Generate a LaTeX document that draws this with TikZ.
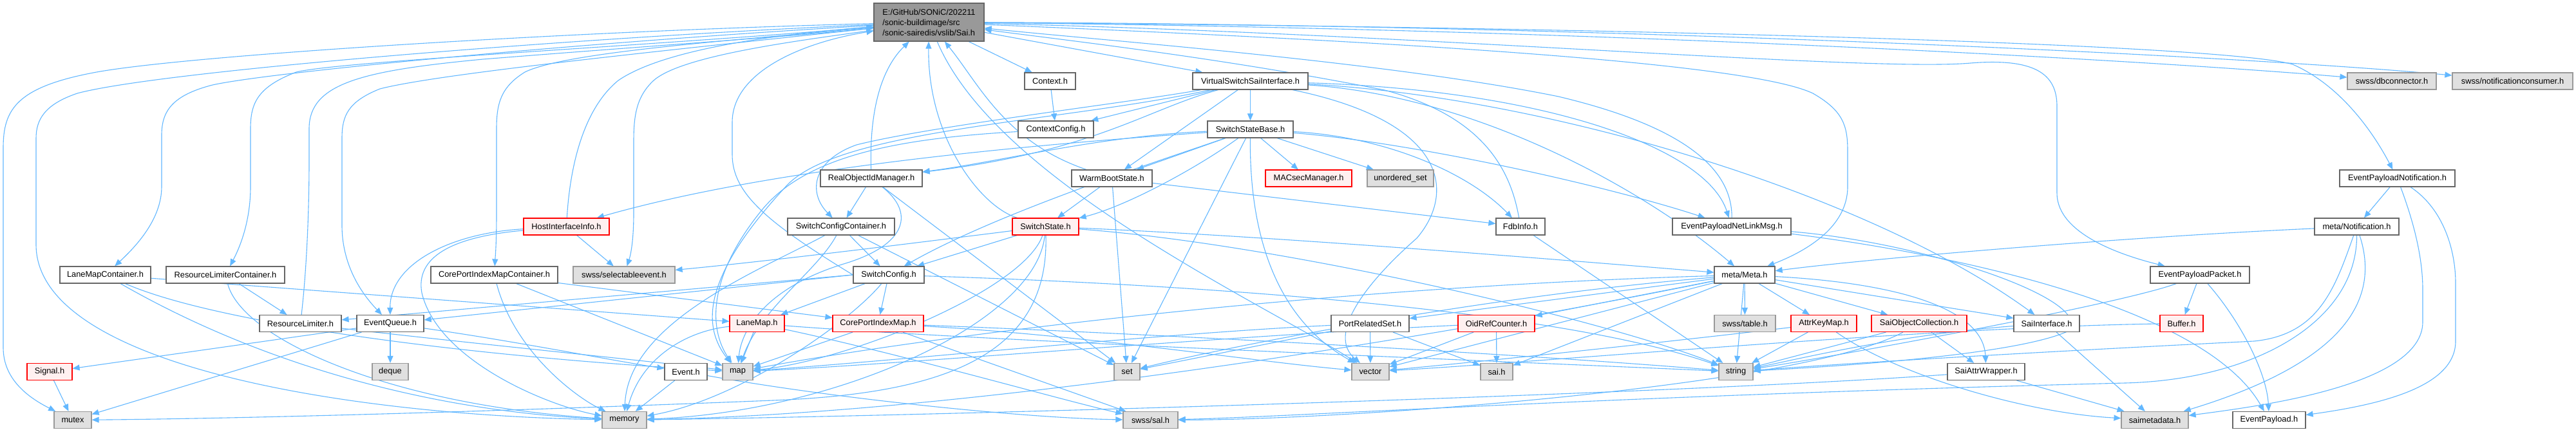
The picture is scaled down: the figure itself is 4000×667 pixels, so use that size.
\documentclass[tikz,border=0pt]{standalone}
\usepackage{fontspec}
\setmainfont{Liberation Sans}
\usetikzlibrary{arrows.meta}
\definecolor{edgec}{HTML}{63B8FF}
\definecolor{nborder}{HTML}{666666}
\definecolor{gfill}{HTML}{E0E0E0}
\definecolor{gborder}{HTML}{999999}
\definecolor{rfill}{HTML}{FFF0F0}
\definecolor{mainfill}{HTML}{999999}
\pgfdeclarelayer{bglayer}
\pgfdeclarelayer{edgelayer}
\pgfsetlayers{bglayer,edgelayer,main}
\begin{document}
\begin{tikzpicture}[x=1pt,y=-1pt,font=\fontsize{12.8}{15}\selectfont,
  nbox/.style={draw=nborder,fill=white,line width=1.2pt,minimum height=26pt,inner sep=0pt,text=black},
  gbox/.style={nbox,draw=gborder,fill=gfill},
  rbox/.style={nbox,draw=red,fill=rfill},
  mbox/.style={nbox,fill=mainfill,minimum height=59pt,align=left,font=\fontsize{12.8}{16}\selectfont},
  lnk/.style={draw=edgec,line width=1.1pt,-{Triangle[length=11pt,width=9pt]}}]
\begin{pgfonlayer}{bglayer}
\fill[white] (0,0) rectangle (4000,667);
\end{pgfonlayer}
\useasboundingbox (0,0) rectangle (4000,667);
% nodes
\node[mbox,minimum width=171pt] (sai) at (1442.5,34.5) {E:/GitHub/SONiC/202211\\/sonic-buildimage/src\\/sonic-sairedis/vslib/Sai.h};
\node[nbox,minimum width=79pt] (context) at (1630.5,126) {Context.h};
\node[nbox,minimum width=179pt] (vssi) at (1941.5,126) {VirtualSwitchSaiInterface.h};
\node[gbox,minimum width=138pt] (dbconn) at (3714,126) {swss/dbconnector.h};
\node[gbox,minimum width=187pt] (notifcons) at (3901.5,126) {swss/notificationconsumer.h};
\node[nbox,minimum width=117pt] (ctxcfg) at (1639.5,201) {ContextConfig.h};
\node[nbox,minimum width=133pt] (ssb) at (1941.5,201) {SwitchStateBase.h};
\node[nbox,minimum width=158pt] (roim) at (1353,277) {RealObjectIdManager.h};
\node[nbox,minimum width=125pt] (wbs) at (1726.5,277) {WarmBootState.h};
\node[rbox,minimum width=134pt] (macsec) at (2032,277) {MACsecManager.h};
\node[gbox,minimum width=103pt] (uset) at (2174.5,277) {unordered\_set};
\node[nbox,minimum width=179pt] (epn) at (3722.5,277) {EventPayloadNotification.h};
\node[rbox,minimum width=133pt] (hii) at (879.5,352) {HostInterfaceInfo.h};
\node[nbox,minimum width=166pt] (scc) at (1306,352) {SwitchConfigContainer.h};
\node[rbox,minimum width=103pt] (ss) at (1623.5,352) {SwitchState.h};
\node[nbox,minimum width=76pt] (fdb) at (2361,352) {FdbInfo.h};
\node[nbox,minimum width=184pt] (epnl) at (2689,352) {EventPayloadNetLinkMsg.h};
\node[nbox,minimum width=131pt] (mnotif) at (3659.5,352) {meta/Notification.h};
\node[nbox,minimum width=141pt] (lmc) at (163.5,427) {LaneMapContainer.h};
\node[nbox,minimum width=184pt] (rlc) at (350,427) {ResourceLimiterContainer.h};
\node[nbox,minimum width=197pt] (cpimc) at (767.5,427) {CorePortIndexMapContainer.h};
\node[gbox,minimum width=158pt] (sel) at (969,427) {swss/selectableevent.h};
\node[nbox,minimum width=110pt] (scfg) at (1380,427) {SwitchConfig.h};
\node[nbox,minimum width=94pt] (meta) at (2709,427) {meta/Meta.h};
\node[nbox,minimum width=154pt] (epp) at (3416,427) {EventPayloadPacket.h};
\node[nbox,minimum width=127pt] (rl) at (466.5,502.5) {ResourceLimiter.h};
\node[nbox,minimum width=104pt] (eq) at (606,502.5) {EventQueue.h};
\node[rbox,minimum width=85pt] (lanemap) at (1175.5,502.5) {LaneMap.h};
\node[rbox,minimum width=141pt] (cpim) at (1363.5,502.5) {CorePortIndexMap.h};
\node[nbox,minimum width=121pt] (prs) at (2127.5,502.5) {PortRelatedSet.h};
\node[rbox,minimum width=119pt] (orc) at (2323.5,502.5) {OidRefCounter.h};
\node[gbox,minimum width=95pt] (table) at (2709.5,502.5) {swss/table.h};
\node[rbox,minimum width=102pt] (akm) at (2832,502.5) {AttrKeyMap.h};
\node[rbox,minimum width=148pt] (soc) at (2980,502.5) {SaiObjectCollection.h};
\node[nbox,minimum width=102pt] (si) at (3178,502.5) {SaiInterface.h};
\node[rbox,minimum width=67pt] (buffer) at (3387.5,502.5) {Buffer.h};
\node[rbox,minimum width=70pt] (signal) at (77,577.5) {Signal.h};
\node[gbox,minimum width=56pt] (deque) at (606,577.5) {deque};
\node[nbox,minimum width=66pt] (event) at (1065,577.5) {Event.h};
\node[gbox,minimum width=47pt] (map) at (1145.5,577.5) {map};
\node[gbox,minimum width=40pt] (set) at (1750,577.5) {set};
\node[gbox,minimum width=58pt] (vector) at (2128,577.5) {vector};
\node[gbox,minimum width=50pt] (saih) at (2324,577.5) {sai.h};
\node[gbox,minimum width=53pt] (string) at (2695.5,577.5) {string};
\node[nbox,minimum width=120pt] (saw) at (3084,577.5) {SaiAttrWrapper.h};
\node[gbox,minimum width=58pt] (mutex) at (113,652.5) {mutex};
\node[gbox,minimum width=69pt] (memory) at (969.5,652.5) {memory};
\node[gbox,minimum width=85pt] (sal) at (1786.5,652.5) {swss/sal.h};
\node[gbox,minimum width=104pt] (smd) at (3346,652.5) {saimetadata.h};
\node[nbox,minimum width=113pt] (ep) at (3523.5,652.5) {EventPayload.h};
% edges
\begin{pgfonlayer}{edgelayer}
\draw[lnk] (sai) .. controls (900,48) and (300,85) .. (150,112) .. controls (25,135) and (5,170) .. (5,230) -- (5,540) .. controls (5,590) and (45,618) .. (mutex);
\draw[lnk] (sai) .. controls (900,58) and (250,110) .. (120,145) .. controls (70,162) and (56,185) .. (56,215) -- (56,380) .. controls (56,570) and (550,645) .. (memory);
\draw[lnk] (sai) .. controls (900,66) and (420,112) .. (330,132) .. controls (268,148) and (251,172) .. (251,210) -- (251,290) .. controls (251,340) and (212,382) .. (lmc);
\draw[lnk] (sai) .. controls (1000,72) and (530,95) .. (460,112) .. controls (400,135) and (389,160) .. (389,200) -- (389,290) .. controls (389,345) and (372,385) .. (rlc);
\draw[lnk] (rl) .. controls (476,420) and (480,330) .. (480,250) -- (480,200) .. controls (480,130) and (560,110) .. (750,92) .. controls (1000,72) and (1250,55) .. (sai);
\draw[lnk] (sai) .. controls (1000,82) and (680,115) .. (590,138) .. controls (540,158) and (531,180) .. (531,215) -- (531,350) .. controls (531,420) and (570,465) .. (eq);
\draw[lnk] (sai) .. controls (1150,62) and (880,80) .. (815,112) .. controls (778,135) and (771,160) .. (771,200) -- (771,330) .. controls (771,380) and (769,400) .. (cpimc);
\draw[lnk] (hii) .. controls (885,260) and (905,170) .. (960,125) .. controls (1040,70) and (1250,50) .. (sai);
\draw[lnk] (sai) .. controls (1250,62) and (1060,85) .. (1015,125) .. controls (988,150) and (984,180) .. (984,220) -- (984,330) .. controls (984,380) and (978,400) .. (sel);
\draw[lnk] (scfg.west) .. controls (1190,345) and (1137,300) .. (1137,240) -- (1137,190) .. controls (1137,110) and (1250,65) .. (sai);
\draw[lnk] (roim) .. controls (1350,180) and (1365,110) .. (sai);
\draw[lnk] (ss) .. controls (1520,320) and (1440,210) .. (sai);
\draw[lnk] (wbs) .. controls (1560,220) and (1520,130) .. (sai);
\draw[lnk] (sai) -- (context);
\draw[lnk] (sai) -- (vssi);
\draw[lnk] (sai) .. controls (2500,45) and (3350,95) .. (dbconn);
\draw[lnk] (sai) .. controls (2500,38) and (3500,88) .. (notifcons);
\draw[lnk] (sai) .. controls (2500,42) and (3450,68) .. (3560,100) .. controls (3640,135) and (3690,215) .. (epn);
\draw[lnk] (sai) .. controls (2000,58) and (2700,90) .. (2815,145) .. controls (2862,172) and (2869,195) .. (2869,235) -- (2869,290) .. controls (2869,355) and (2800,392) .. (meta);
\draw[lnk] (sai) .. controls (2200,52) and (2900,112) .. (3060,98) .. controls (3160,90) and (3194,115) .. (3194,165) -- (3194,300) .. controls (3194,365) and (3300,398) .. (epp);
\draw[lnk] (sai) .. controls (1500,170) and (1620,270) .. (1760,360) .. controls (1900,450) and (2040,520) .. (vector);
\draw[lnk] (context) -- (ctxcfg);
\draw[lnk] (vssi) -- (ctxcfg);
\draw[lnk] (vssi) .. controls (1780,170) and (1700,235) .. (roim);
\draw[lnk] (vssi) -- (wbs);
\draw[lnk] (vssi) -- (ssb);
\draw[lnk] (vssi) .. controls (1750,160) and (1450,195) .. (1330,225) .. controls (1260,250) and (1255,300) .. (scc);
\draw[lnk] (vssi) .. controls (1650,190) and (1300,200) .. (1220,290) .. controls (1100,420) and (1085,500) .. (map);
\draw[lnk] (ctxcfg) .. controls (1400,215) and (1250,240) .. (1180,330) .. controls (1100,430) and (1100,510) .. (map);
\draw[lnk] (ssb) .. controls (1600,225) and (1200,260) .. (hii);
\draw[lnk] (roim) -- (scc);
\draw[lnk] (roim) -- (set);
\draw[lnk] (roim) .. controls (1420,330) and (1410,380) .. (1310,410) .. controls (1180,450) and (1150,520) .. (map);
\draw[lnk] (scc) -- (scfg);
\draw[lnk] (scc) .. controls (1270,420) and (1180,480) .. (map);
\draw[lnk] (scc) .. controls (1180,420) and (975,500) .. (memory);
\draw[lnk] (scc) -- (set);
\draw[lnk] (scfg.west) -- (rl);
\draw[lnk] (scfg.west) -- (eq);
\draw[lnk] (scfg) -- (lanemap);
\draw[lnk] (scfg) -- (cpim);
\draw[lnk] (scfg) .. controls (1800,440) and (2400,475) .. (string);
\draw[lnk] (scfg) .. controls (1320,500) and (1150,620) .. (memory);
\draw[lnk] (hii) -- (sel);
\draw[lnk] (hii) .. controls (700,362) and (605,410) .. (eq);
\draw[lnk] (hii) .. controls (700,368) and (645,400) .. (655,455) .. controls (680,560) and (850,630) .. (memory);
\draw[lnk] (lmc) -- (lanemap);
\draw[lnk] (lmc) .. controls (330,500) and (700,552) .. (map);
\draw[lnk] (lmc) .. controls (430,580) and (700,640) .. (memory);
\draw[lnk] (rlc) -- (rl);
\draw[lnk] (rlc) .. controls (375,525) and (600,628) .. (memory);
\draw[lnk] (rl) .. controls (700,530) and (1000,560) .. (map);
\draw[lnk] (eq) -- (signal);
\draw[lnk] (eq) -- (mutex);
\draw[lnk] (eq) -- (deque);
\draw[lnk] (eq) .. controls (800,530) and (950,560) .. (event);
\draw[lnk] (signal) -- (mutex);
\draw[lnk] (cpimc) .. controls (800,550) and (900,620) .. (memory);
\draw[lnk] (cpimc) -- (map);
\draw[lnk] (cpimc) -- (cpim);
\draw[lnk] (lanemap) -- (map);
\draw[lnk] (lanemap) .. controls (1060,515) and (995,560) .. (memory);
\draw[lnk] (lanemap) .. controls (1500,528) and (2300,560) .. (string);
\draw[lnk] (lanemap) .. controls (1400,550) and (1650,622) .. (sal);
\draw[lnk] (cpim) -- (map);
\draw[lnk] (cpim) -- (sal);
\draw[lnk] (cpim) .. controls (1700,515) and (2300,545) .. (string);
\draw[lnk] (cpim) .. controls (1700,522) and (1950,562) .. (vector);
\draw[lnk] (event) -- (memory);
\draw[lnk] (event) .. controls (1300,620) and (1600,650) .. (sal);
\draw[lnk] (wbs) -- (ss);
\draw[lnk] (wbs) -- (set);
\draw[lnk] (wbs) -- (fdb);
\draw[lnk] (ss) -- (scfg);
\draw[lnk] (ss) .. controls (1400,380) and (1200,405) .. (sel);
\draw[lnk] (ss) .. controls (1590,450) and (1320,560) .. (map);
\draw[lnk] (ss) .. controls (1610,500) and (1300,640) .. (memory);
\draw[lnk] (ss) .. controls (1630,560) and (1450,612) .. (1200,622) .. controls (800,638) and (400,650) .. (mutex);
\draw[lnk] (ss) .. controls (2000,368) and (2500,410) .. (meta);
\draw[lnk] (ss) .. controls (2000,380) and (2500,500) .. (string);
\draw[lnk] (ssb) .. controls (1860,260) and (1750,320) .. (ss);
\draw[lnk] (ssb) .. controls (1700,212) and (1550,252) .. (roim);
\draw[lnk] (ssb) -- (wbs);
\draw[lnk] (ssb) .. controls (1800,250) and (1550,330) .. (scfg);
\draw[lnk] (ssb) -- (macsec);
\draw[lnk] (ssb) -- (uset);
\draw[lnk] (ssb) .. controls (2150,212) and (2280,268) .. (fdb);
\draw[lnk] (ssb) .. controls (2200,222) and (2500,290) .. (epnl);
\draw[lnk] (ssb) -- (set);
\draw[lnk] (ssb) .. controls (1940,380) and (1990,500) .. (vector);
\draw[lnk] (vssi) .. controls (2250,190) and (2260,300) .. (2200,370) .. controls (2120,440) and (2060,520) .. (vector);
\draw[lnk] (vssi) .. controls (2300,150) and (2560,300) .. (meta);
\draw[lnk] (vssi) .. controls (2400,150) and (2900,300) .. (si);
\draw[lnk] (vssi) .. controls (2400,140) and (2650,230) .. (epnl);
\draw[lnk] (fdb) .. controls (2345,260) and (2300,180) .. (2150,140) .. controls (1900,90) and (1650,62) .. (sai);
\draw[lnk] (fdb) -- (string);
\draw[lnk] (epnl) .. controls (2690,270) and (2630,200) .. (2420,150) .. controls (2150,95) and (1700,62) .. (sai);
\draw[lnk] (epnl) .. controls (3000,390) and (3420,470) .. (ep);
\draw[lnk] (epnl) .. controls (3000,378) and (3260,470) .. (3210,515) .. controls (3120,555) and (2800,572) .. (string);
\draw[lnk] (meta) -- (table);
\draw[lnk] (meta) -- (akm);
\draw[lnk] (meta) -- (soc);
\draw[lnk] (meta) -- (si);
\draw[lnk] (meta) .. controls (2950,440) and (3080,480) .. (saw);
\draw[lnk] (meta) -- (string);
\draw[lnk] (meta) -- (prs);
\draw[lnk] (meta) -- (orc);
\draw[lnk] (meta) -- (vector);
\draw[lnk] (meta) -- (saih);
\draw[lnk] (meta) .. controls (2300,460) and (1900,540) .. (set);
\draw[lnk] (meta) .. controls (2000,448) and (1400,530) .. (map);
\draw[lnk] (meta) .. controls (2200,530) and (1500,642) .. (memory);
\draw[lnk] (prs) -- (vector);
\draw[lnk] (prs) -- (saih);
\draw[lnk] (prs) -- (set);
\draw[lnk] (prs) .. controls (1800,518) and (1400,560) .. (map);
\draw[lnk] (orc) -- (saih);
\draw[lnk] (orc) -- (vector);
\draw[lnk] (orc) .. controls (1900,522) and (1400,566) .. (map);
\draw[lnk] (akm) -- (string);
\draw[lnk] (akm) .. controls (2950,585) and (3150,642) .. (smd);
\draw[lnk] (akm) .. controls (2600,530) and (2300,562) .. (vector);
\draw[lnk] (soc) -- (string);
\draw[lnk] (soc) -- (saw);
\draw[lnk] (soc) .. controls (2800,600) and (2100,652) .. (sal);
\draw[lnk] (si) -- (smd);
\draw[lnk] (si) .. controls (2950,520) and (2800,556) .. (string);
\draw[lnk] (saw) -- (smd);
\draw[lnk] (saw) .. controls (2600,612) and (1500,645) .. (memory);
\draw[lnk] (epp) -- (buffer);
\draw[lnk] (epp) .. controls (3480,500) and (3520,580) .. (ep);
\draw[lnk] (epp) .. controls (3300,470) and (2900,545) .. (string);
\draw[lnk] (buffer) .. controls (3000,508) and (2400,562) .. (vector);
\draw[lnk] (epn) -- (mnotif);
\draw[lnk] (epn) .. controls (3795,325) and (3813,390) .. (3813,440) -- (3813,530) .. controls (3813,600) and (3700,628) .. (ep);
\draw[lnk] (epn) .. controls (3748,345) and (3762,400) .. (3762,450) -- (3762,500) .. controls (3762,600) and (3500,632) .. (smd);
\draw[lnk] (mnotif) .. controls (3300,368) and (2900,402) .. (meta);
\draw[lnk] (mnotif) .. controls (3625,450) and (3600,520) .. (3500,530) .. controls (3200,545) and (2900,562) .. (string);
\draw[lnk] (mnotif) .. controls (3660,500) and (3500,590) .. (3300,595) .. controls (2500,615) and (2000,648) .. (sal);
\draw[lnk] (mnotif) .. controls (3695,460) and (3650,560) .. (smd);
\end{pgfonlayer}
\end{tikzpicture}
\end{document}
